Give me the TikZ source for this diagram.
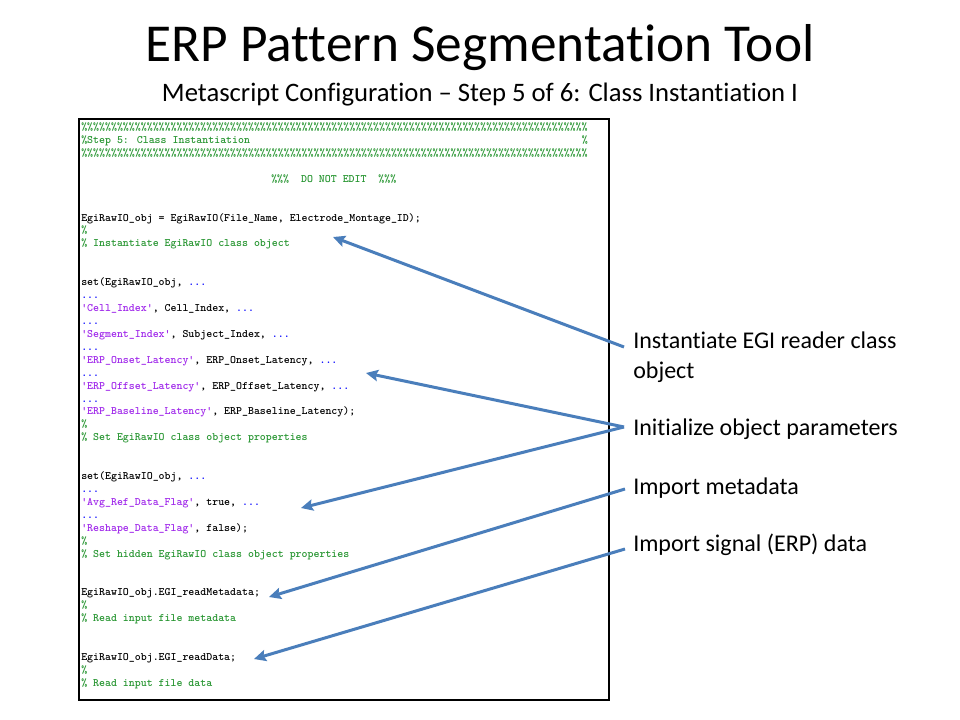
\documentclass[tikz,border=0pt]{standalone}
\usepackage{fontspec}
\setmainfont{Carlito}[Ligatures={NoCommon}]
\usetikzlibrary{arrows.meta}
\ExplSyntaxOn
\cs_new:Npn \myrep #1#2 {\prg_replicate:nn{#1}{#2}}
\ExplSyntaxOff
\definecolor{cgreen}{RGB}{40,150,50}
\definecolor{cpurple}{RGB}{160,40,235}
\definecolor{cblue}{RGB}{0,0,255}
\definecolor{arrowblue}{HTML}{4A7EBB}
\newcommand{\cm}[1]{\textcolor{cgreen}{#1}}
\newcommand{\cs}[1]{\textcolor{cpurple}{#1}}
\newcommand{\cd}{\textcolor{cblue}{...}}
\begin{document}
\begin{tikzpicture}[x=0.75pt,y=-0.75pt,
  codeline/.style={anchor=base west,inner sep=0pt,font=\ttfamily\bfseries\fontsize{8.51}{9}\selectfont},
  label/.style={anchor=base west,inner sep=0pt,font=\fontsize{18}{20}\selectfont},
  pointer/.style={draw=arrowblue,line width=2.25pt,-{Stealth[length=9pt,width=8.5pt,inset=1.5pt]}}]
\useasboundingbox[fill=white] (0,0) rectangle (960,720);
% titles
\node[anchor=base,inner sep=0pt,font=\fontsize{40}{44}\selectfont] (title) at (480,61.7) {ERP Pattern Segmentation Tool};
\node[anchor=base,inner sep=0pt,font=\fontsize{20}{22}\selectfont] (subtitle) at (480,102) {Metascript Configuration -- Step 5 of 6: Class Instantiation I};
% code box
\draw[black,line width=1.5pt] (79,119) rectangle (609,700);
\def\by#1{130.5+12.93*#1}
\node[codeline] (c0) at (81,{\by{0}}) {\cm{\myrep{85}{\%}}};
\node[codeline] (c1) at (81,{\by{1}}) {\cm{\%Step 5: Class Instantiation}};
\node[codeline] (c1b) at ({81+84*5.96},{\by{1}}) {\cm{\%}};
\node[codeline] (c2) at (81,{\by{2}}) {\cm{\myrep{85}{\%}}};
\node[codeline] (c4) at (271,{\by{4}}) {\cm{\%\%\%\ \ DO NOT EDIT\ \ \%\%\%}};
\node[codeline] (c7) at (81,{\by{7}}) {EgiRawIO\_obj = EgiRawIO(File\_Name, Electrode\_Montage\_ID);};
\node[codeline] (c8) at (81,{\by{8}}) {\cm{\%}};
\node[codeline] (c9) at (81,{\by{9}}) {\cm{\% Instantiate EgiRawIO class object}};
\node[codeline] (c12) at (81,{\by{12}}) {set(EgiRawIO\_obj, \cd};
\node[codeline] (c13) at (81,{\by{13}}) {\cd};
\node[codeline] (c14) at (81,{\by{14}}) {\cs{'Cell\_Index'}, Cell\_Index, \cd};
\node[codeline] (c15) at (81,{\by{15}}) {\cd};
\node[codeline] (c16) at (81,{\by{16}}) {\cs{'Segment\_Index'}, Subject\_Index, \cd};
\node[codeline] (c17) at (81,{\by{17}}) {\cd};
\node[codeline] (c18) at (81,{\by{18}}) {\cs{'ERP\_Onset\_Latency'}, ERP\_Onset\_Latency, \cd};
\node[codeline] (c19) at (81,{\by{19}}) {\cd};
\node[codeline] (c20) at (81,{\by{20}}) {\cs{'ERP\_Offset\_Latency'}, ERP\_Offset\_Latency, \cd};
\node[codeline] (c21) at (81,{\by{21}}) {\cd};
\node[codeline] (c22) at (81,{\by{22}}) {\cs{'ERP\_Baseline\_Latency'}, ERP\_Baseline\_Latency);};
\node[codeline] (c23) at (81,{\by{23}}) {\cm{\%}};
\node[codeline] (c24) at (81,{\by{24}}) {\cm{\% Set EgiRawIO class object properties}};
\node[codeline] (c27) at (81,{\by{27}}) {set(EgiRawIO\_obj, \cd};
\node[codeline] (c28) at (81,{\by{28}}) {\cd};
\node[codeline] (c29) at (81,{\by{29}}) {\cs{'Avg\_Ref\_Data\_Flag'}, true, \cd};
\node[codeline] (c30) at (81,{\by{30}}) {\cd};
\node[codeline] (c31) at (81,{\by{31}}) {\cs{'Reshape\_Data\_Flag'}, false);};
\node[codeline] (c32) at (81,{\by{32}}) {\cm{\%}};
\node[codeline] (c33) at (81,{\by{33}}) {\cm{\% Set hidden EgiRawIO class object properties}};
\node[codeline] (c36) at (81,{\by{36}}) {EgiRawIO\_obj.EGI\_readMetadata;};
\node[codeline] (c37) at (81,{\by{37}}) {\cm{\%}};
\node[codeline] (c38) at (81,{\by{38}}) {\cm{\% Read input file metadata}};
\node[codeline] (c41) at (81,{\by{41}}) {EgiRawIO\_obj.EGI\_readData;};
\node[codeline] (c42) at (81,{\by{42}}) {\cm{\%}};
\node[codeline] (c43) at (81,{\by{43}}) {\cm{\% Read input file data}};
% labels
\node[label] (l1) at (633,349) {Instantiate EGI reader class};
\node[label] (l1b) at (633,378) {object};
\node[label] (l2) at (633,435) {Initialize object parameters};
\node[label] (l3) at (633,494) {Import metadata};
\node[label] (l4) at (633,551) {Import signal (ERP) data};
% arrow anchors
\coordinate (s1) at (624,347);
\coordinate (s2) at (624,427);
\coordinate (s4) at (625,489);
\coordinate (s5) at (625,549);
\coordinate (t1) at (333,237);
\coordinate (t2) at (366,373);
\coordinate (t3) at (301,508);
\coordinate (t4) at (269,597);
\coordinate (t5) at (254,659);
\draw[pointer] (s1) -- (t1);
\draw[pointer] (s2) -- (t2);
\draw[pointer] (s2) -- (t3);
\draw[pointer] (s4) -- (t4);
\draw[pointer] (s5) -- (t5);
\end{tikzpicture}
\end{document}
